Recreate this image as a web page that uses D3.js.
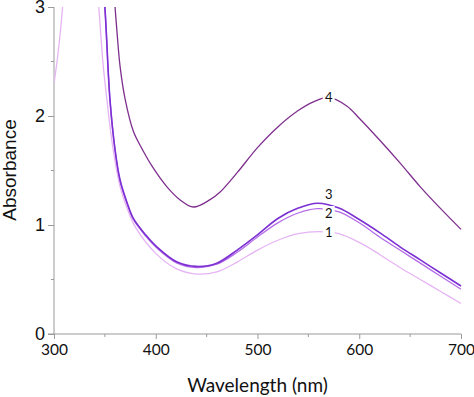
<!DOCTYPE html>
<html>
<head>
<meta charset="utf-8">
<script src="https://cdn.jsdelivr.net/npm/d3@7"></script>
<style>
  body { margin: 0; background: #fff; }
  svg { display: block; }
</style>
</head>
<body>
<svg id="chart"></svg>
<script>
// Absorption spectra, values
const wl1 = [300, 303, 306, 309, 315, 330, 340, 344, 348, 352, 358, 365, 372, 380, 400, 420, 440, 460, 480, 500, 520, 540, 560, 580, 600, 620, 640, 660, 680, 700];
const abs1 = [2.3, 2.5, 2.75, 3.05, 3.6, 3.8, 3.4, 3.0, 2.5, 2.15, 1.7, 1.35, 1.15, 0.98, 0.74, 0.60, 0.55, 0.57, 0.66, 0.77, 0.86, 0.92, 0.94, 0.92, 0.84, 0.73, 0.61, 0.50, 0.39, 0.28];

const wl23 = [345, 350, 355, 360, 365, 372, 378, 390, 401, 421, 440, 460, 480, 500, 520, 540, 559, 580, 600, 620, 640, 660, 680, 700];
const abs2 = [3.6, 3.0, 2.15, 1.69, 1.40, 1.19, 1.05, 0.90, 0.79, 0.65, 0.61, 0.64, 0.75, 0.89, 1.02, 1.11, 1.15, 1.12, 1.02, 0.89, 0.77, 0.65, 0.53, 0.41];
const abs3 = [3.6, 3.0, 2.15, 1.69, 1.41, 1.20, 1.06, 0.91, 0.80, 0.66, 0.62, 0.65, 0.77, 0.91, 1.06, 1.155, 1.20, 1.155, 1.05, 0.93, 0.80, 0.68, 0.56, 0.44];

const wl4 = [355, 360, 362, 365, 370, 378, 387, 397, 411, 424, 437, 453, 463, 480, 500, 520, 540, 555, 570, 588, 600, 620, 640, 660, 680, 700];
const abs4 = [3.6, 3.0, 2.76, 2.45, 2.15, 1.86, 1.69, 1.53, 1.35, 1.23, 1.165, 1.23, 1.30, 1.48, 1.71, 1.90, 2.05, 2.13, 2.17, 2.09, 1.98, 1.78, 1.57, 1.35, 1.15, 0.96];

const curveNames = ["1", "2", "3", "4"];
const curveColors = ["#e6b4f4", "#b46ce8", "#7c2fd2", "#7e2f8e"];
const labelX = [570, 570, 570, 570];
const labelY = [0.93, 1.11, 1.285, 2.175];

const xTicks = [300, 400, 500, 600, 700];
const xMinor = [350, 450, 550, 650];
const yTicks = [0, 1, 2, 3];
const yMinor = [0.5, 1.5, 2.5];

const width = 474;
const height = 397;
const margin = { top: 7, right: 13, bottom: 63, left: 54 };

const svg = d3.select("#chart").attr("width", width).attr("height", height);

const x = d3.scaleLinear().domain([300, 700]).range([margin.left, width - margin.right]);
const y = d3.scaleLinear().domain([0, 3]).range([height - margin.bottom, margin.top]);

const series = [
  wl1.map((w, i) => [w, abs1[i]]),
  wl23.map((w, i) => [w, abs2[i]]),
  wl23.map((w, i) => [w, abs3[i]]),
  wl4.map((w, i) => [w, abs4[i]])
];

svg.append("defs").append("clipPath").attr("id", "plot-clip")
  .append("rect")
  .attr("x", margin.left)
  .attr("y", margin.top)
  .attr("width", width - margin.left - margin.right + 1)
  .attr("height", height - margin.top - margin.bottom);

const axisColor = "#9a9a9a";

// x axis
const xAxis = svg.append("g")
  .attr("transform", `translate(0,${y(0)})`)
  .call(d3.axisBottom(x).tickValues(xTicks).tickSize(5).tickFormat(d3.format("d")));
xAxis.select(".domain").attr("stroke", axisColor).attr("d", `M${margin.left - 6},0H${x(700)}`);
xAxis.selectAll(".tick line").attr("stroke", axisColor);
xAxis.selectAll(".tick text")
  .attr("y", 10)
  .attr("fill", "#111")
  .style("font-family", "Lato, 'Open Sans', sans-serif")
  .style("font-size", "15.5px");

svg.append("g")
  .attr("transform", `translate(0,${y(0)})`)
  .selectAll("line")
  .data(xMinor)
  .enter()
  .append("line")
  .attr("x1", d => x(d))
  .attr("x2", d => x(d))
  .attr("y1", 0)
  .attr("y2", 3)
  .attr("stroke", axisColor);

// y axis
const yAxis = svg.append("g")
  .attr("transform", `translate(${margin.left},0)`)
  .call(d3.axisLeft(y).tickValues(yTicks).tickSize(6).tickFormat(d3.format("d")));
yAxis.select(".domain").attr("stroke", axisColor).attr("d", `M0,${y(0)}V${y(3)}`);
yAxis.selectAll(".tick line").attr("stroke", axisColor);
yAxis.selectAll(".tick text")
  .attr("x", -9)
  .attr("fill", "#111")
  .style("font-family", "'Liberation Sans', Arial, sans-serif")
  .style("font-size", "18px");

svg.append("g")
  .attr("transform", `translate(${margin.left},0)`)
  .selectAll("line")
  .data(yMinor)
  .enter()
  .append("line")
  .attr("x1", -3)
  .attr("x2", 0)
  .attr("y1", d => y(d))
  .attr("y2", d => y(d))
  .attr("stroke", axisColor);

// curves
const line = d3.line()
  .x(d => x(d[0]))
  .y(d => y(d[1]))
  .curve(d3.curveCatmullRom.alpha(0.5));

svg.append("g")
  .attr("clip-path", "url(#plot-clip)")
  .selectAll("path")
  .data(series)
  .enter()
  .append("path")
  .attr("d", line)
  .attr("fill", "none")
  .attr("stroke", (d, i) => curveColors[i])
  .attr("stroke-width", (d, i) => (i === 2 ? 1.6 : 1.3));

// curve labels with white backing
const labels = svg.append("g");
curveNames.forEach((name, i) => {
  const cx = x(labelX[i]);
  const cy = y(labelY[i]);
  labels.append("rect")
    .attr("x", cx - 6)
    .attr("y", cy - 7)
    .attr("width", 12)
    .attr("height", 14)
    .attr("fill", "#fff");
  labels.append("text")
    .attr("x", cx)
    .attr("y", cy)
    .attr("dy", "0.36em")
    .attr("text-anchor", "middle")
    .attr("fill", "#111")
    .style("font-family", "Lato, 'Open Sans', sans-serif")
    .style("font-size", "13px")
    .text(name);
});

// axis titles
svg.append("text")
  .attr("x", (x(300) + x(700)) / 2)
  .attr("y", 392)
  .attr("text-anchor", "middle")
  .attr("fill", "#111")
  .style("font-family", "Lato, 'Open Sans', sans-serif")
  .style("font-size", "19px")
  .text("Wavelength (nm)");

svg.append("text")
  .attr("transform", `translate(16,170) rotate(-90)`)
  .attr("text-anchor", "middle")
  .attr("fill", "#111")
  .style("font-family", "'Liberation Sans', Arial, sans-serif")
  .style("font-size", "19px")
  .text("Absorbance");
</script>
</body>
</html>
